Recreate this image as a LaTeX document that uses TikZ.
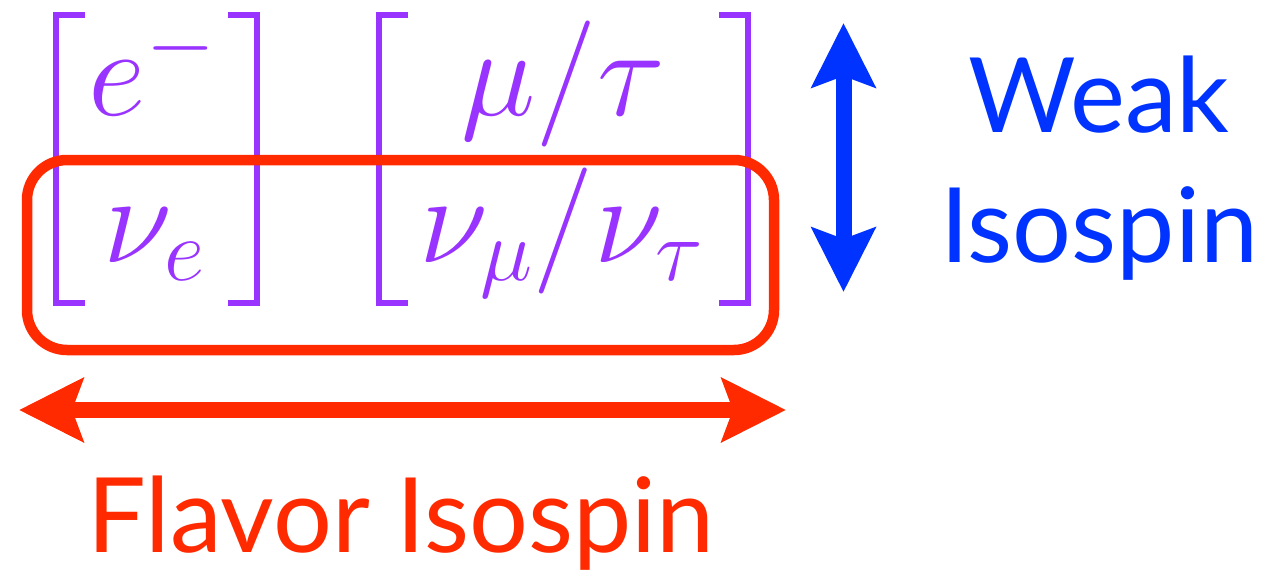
\documentclass[tikz,border=0pt]{standalone}
\usepackage{fix-cm}
\usepackage{amsmath}
\usepackage[no-math]{fontspec}
\setmainfont{Lato}
\usepackage{tikz}
\usetikzlibrary{arrows.meta}
\usepackage{xcolor}
\definecolor{IsoPurple}{HTML}{9933FF}
\definecolor{IsoRed}{HTML}{FF2A00}
\definecolor{IsoBlue}{HTML}{0033FF}

\begin{document}
\begin{tikzpicture}[x=1pt,y=-1pt,every node/.style={inner sep=0pt},
    lepton/.style={text=IsoPurple,font=\fontsize{126}{126}\selectfont,anchor=base},
    brak/.style={draw=IsoPurple,line width=6.5pt},
    flavbox/.style={draw=IsoRed,line width=10.5pt,rounded corners=40pt},
    isoarrow/.style={line width=16pt,{Stealth[length=64pt,width=63pt,inset=11pt]}-{Stealth[length=64pt,width=63pt,inset=11pt]}},
    isolabel/.style={font=\fontsize{104}{130}\selectfont,align=center,anchor=base}]
    \useasboundingbox (0,0) rectangle (1282,575);
    % doublets
    \node[lepton] (elec) at (152,116) {$e^-$};
    \node[lepton] (nue) at (154,262) {$\nu_e$};
    \node[lepton] (mutau) at (563,116) {$\mu/\tau$};
    \node[lepton] (numutau) at (561,262) {$\nu_\mu/\nu_\tau$};
    \foreach \l/\r in {56/257,379/748}{
      \draw[brak] (\l+29,15) -| (\l,303) -- (\l+29,303);
      \draw[brak] (\r-29,15) -| (\r,303) -- (\r-29,303);}
    \draw[flavbox] (27,160) rectangle (774,350);
    % arrows
    \coordinate (fleft) at (19,410);
    \coordinate (fright) at (786,410);
    \coordinate (wtop) at (843.5,23);
    \coordinate (wbot) at (843.5,292);
    \draw[isoarrow,IsoRed] (fleft)--(fright);
    \draw[isoarrow,IsoBlue] (wtop)--(wbot);
    \node[isolabel,text=IsoRed] (flavor) at (401,552) {Flavor Isospin};
    \node[isolabel,text=IsoBlue] (weak) at (1099,262) {Weak\\Isospin};
  \end{tikzpicture}
\end{document}
